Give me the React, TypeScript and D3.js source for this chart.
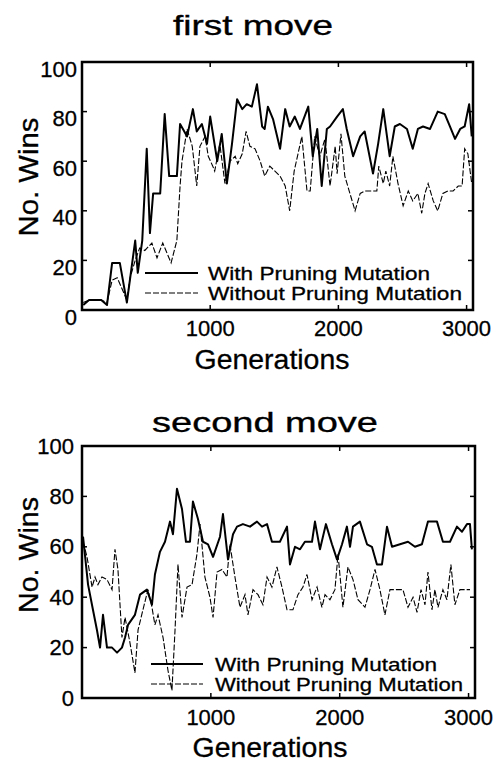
import React from "react";
import * as d3 from "d3";

const xTicks = [1000, 2000, 3000];
const yTicks = [0, 20, 40, 60, 80, 100];
const seriesNames = ["With Pruning Mutation", "Without Pruning Mutation"];

// [generation, no. wins]
const firstWith: [number, number][] = [
  [10, 2], [55, 4], [100, 4], [150, 4], [195, 2], [235, 19], [295, 19], [350, 3], [415, 28], [435, 15],
  [470, 28], [505, 65], [530, 31], [555, 47], [610, 47], [645, 79], [680, 54], [740, 54], [765, 75], [820, 70],
  [865, 81], [895, 72], [935, 75], [975, 67], [1000, 78], [1055, 60], [1090, 71], [1130, 51], [1170, 67], [1210, 85],
  [1250, 81], [1285, 83], [1325, 82], [1365, 91], [1405, 74], [1425, 73], [1450, 82], [1490, 77], [1545, 65], [1585, 81],
  [1620, 74], [1660, 78], [1700, 73], [1765, 82], [1800, 62], [1835, 73], [1870, 50], [1910, 73], [1935, 74], [1990, 78],
  [2035, 81], [2065, 73], [2115, 62], [2170, 70], [2205, 72], [2270, 55], [2310, 67], [2350, 81], [2400, 62], [2440, 74],
  [2480, 75], [2535, 73], [2580, 65], [2620, 73], [2660, 74], [2715, 73], [2775, 80], [2830, 79], [2870, 74], [2910, 69],
  [2950, 73], [2985, 74], [3020, 83], [3040, 70],
];

const firstWithout: [number, number][] = [
  [10, 3], [55, 4], [100, 4], [150, 4], [195, 3], [235, 12], [275, 13], [350, 4], [375, 13], [415, 20],
  [450, 25], [490, 24], [545, 27], [585, 21], [630, 27], [695, 19], [740, 28], [765, 50], [780, 60], [820, 73],
  [860, 66], [895, 50], [920, 66], [960, 70], [985, 62], [1020, 58], [1035, 56], [1075, 67], [1115, 51], [1155, 60],
  [1195, 62], [1215, 59], [1250, 63], [1280, 72], [1310, 66], [1350, 65], [1390, 60], [1425, 54], [1465, 58], [1505, 56],
  [1545, 54], [1585, 50], [1620, 40], [1655, 56], [1685, 63], [1715, 70], [1755, 48], [1780, 48], [1815, 70], [1855, 62],
  [1895, 69], [1935, 50], [1975, 66], [1990, 55], [2020, 71], [2050, 54], [2090, 47], [2130, 40], [2170, 47], [2205, 48],
  [2245, 48], [2300, 48], [2315, 58], [2350, 51], [2370, 56], [2400, 50], [2425, 62], [2465, 51], [2505, 42], [2545, 48],
  [2580, 44], [2620, 47], [2650, 39], [2675, 47], [2700, 51], [2740, 44], [2775, 40], [2815, 47], [2855, 48], [2895, 48],
  [2935, 50], [2965, 50], [2985, 65], [3010, 63], [3040, 51],
];

const secondWith: [number, number][] = [
  [8, 64], [47, 45], [85, 35], [116, 27], [140, 20], [163, 33], [194, 20], [233, 20], [272, 18], [310, 20],
  [334, 24], [357, 29], [411, 33], [450, 41], [504, 43], [543, 37], [566, 49], [605, 58], [644, 62], [683, 70],
  [706, 65], [737, 83], [776, 75], [807, 62], [838, 62], [861, 78], [900, 71], [939, 62], [978, 61], [1017, 56],
  [1071, 64], [1094, 73], [1133, 55], [1172, 65], [1203, 68], [1249, 69], [1304, 68], [1358, 70], [1397, 68], [1436, 69],
  [1474, 62], [1536, 62], [1591, 68], [1614, 53], [1653, 60], [1692, 59], [1730, 62], [1785, 62], [1808, 70], [1847, 59],
  [1893, 69], [1940, 61], [1979, 55], [2018, 61], [2056, 68], [2080, 60], [2103, 68], [2157, 70], [2212, 61], [2250, 60],
  [2289, 53], [2328, 53], [2367, 68], [2406, 60], [2468, 61], [2530, 62], [2584, 60], [2638, 61], [2685, 70], [2755, 70],
  [2801, 62], [2856, 62], [2910, 68], [2949, 66], [2988, 69], [3011, 69], [3026, 59],
];

const secondWithout: [number, number][] = [
  [8, 62], [39, 56], [78, 44], [101, 48], [124, 45], [155, 48], [194, 47], [233, 43], [256, 59], [279, 51],
  [310, 24], [334, 32], [372, 22], [411, 10], [435, 27], [473, 35], [512, 43], [543, 36], [566, 29], [590, 33],
  [629, 24], [667, 11], [698, 3], [722, 27], [745, 53], [776, 32], [815, 44], [854, 45], [892, 57], [916, 69],
  [954, 48], [993, 40], [1017, 32], [1048, 50], [1086, 51], [1125, 48], [1148, 61], [1187, 48], [1226, 36], [1265, 41],
  [1288, 33], [1327, 43], [1366, 41], [1404, 37], [1436, 48], [1474, 44], [1513, 52], [1552, 44], [1591, 35], [1637, 35],
  [1676, 41], [1715, 44], [1746, 49], [1785, 39], [1824, 44], [1862, 36], [1886, 41], [1924, 39], [1963, 43], [1987, 57],
  [2025, 36], [2064, 52], [2103, 47], [2142, 39], [2196, 36], [2235, 43], [2274, 51], [2312, 43], [2351, 33], [2390, 43],
  [2444, 43], [2491, 43], [2530, 36], [2569, 40], [2600, 34], [2631, 43], [2662, 37], [2685, 50], [2716, 35], [2739, 43],
  [2763, 36], [2801, 43], [2832, 39], [2863, 53], [2894, 37], [2933, 43], [2972, 43], [3011, 43],
];

const FONT = "'Liberation Sans', Arial, Helvetica, sans-serif";

type Layout = {
  box: { left: number; right: number; top: number; bottom: number };
  title: { text: string; x: number; y: number; len: number };
  xTickY: number;
  yTickX: number;
  yTickDy: number;
  xLabel: { x: number; y: number };
  yLabel: { x: number; y: number; len: number };
  legend: { x0: number; x1: number; tx: number; y1: number; y2: number; len1: number; len2: number };
};

const topLayout: Layout = {
  box: { left: 82, right: 473, top: 62, bottom: 310 },
  title: { text: "first move", x: 253, y: 35, len: 160 },
  xTickY: 336,
  yTickX: 77,
  yTickDy: 7,
  xLabel: { x: 272, y: 369 },
  yLabel: { x: 38, y: 177, len: 119 },
  legend: { x0: 145, x1: 198, tx: 208, y1: 273, y2: 293, len1: 222, len2: 254 },
};

const bottomLayout: Layout = {
  box: { left: 82, right: 475, top: 446, bottom: 698 },
  title: { text: "second move", x: 265, y: 432, len: 226 },
  xTickY: 725,
  yTickX: 74,
  yTickDy: 0,
  xLabel: { x: 270, y: 757 },
  yLabel: { x: 38, y: 555, len: 116 },
  legend: { x0: 151, x1: 203, tx: 215, y1: 664, y2: 684, len1: 222, len2: 248 },
};

function Panel({ L, withData, withoutData }: { L: Layout; withData: [number, number][]; withoutData: [number, number][] }) {
  const { box } = L;
  const x = d3.scaleLinear().domain([0, 3050]).range([box.left, box.right]);
  const y = d3.scaleLinear().domain([0, 100]).range([box.bottom, box.top]);
  const line = d3
    .line<[number, number]>()
    .x((d) => x(d[0]))
    .y((d) => y(d[1]));
  const tick = 5;

  return (
    <g fontFamily={FONT} fill="#000">
      <g stroke="#000" strokeWidth={0.35}>
        <text x={L.title.x} y={L.title.y} fontSize={28} textAnchor="middle" textLength={L.title.len} lengthAdjust="spacingAndGlyphs">
          {L.title.text}
        </text>
      </g>

      {/* data */}
      <path d={line(withoutData) || ""} fill="none" stroke="#000" strokeWidth={1.1} strokeDasharray="6,2" />
      <path d={line(withData) || ""} fill="none" stroke="#000" strokeWidth={2} strokeLinejoin="round" />

      {/* frame */}
      <rect x={box.left} y={box.top} width={box.right - box.left} height={box.bottom - box.top} fill="none" stroke="#000" strokeWidth={2.5} />
      {xTicks.map((t) => (
        <g key={"xt" + t}>
          <line x1={x(t)} x2={x(t)} y1={box.bottom} y2={box.bottom - tick} stroke="#000" strokeWidth={1.5} />
          <line x1={x(t)} x2={x(t)} y1={box.top} y2={box.top + tick} stroke="#000" strokeWidth={1.5} />
          <text x={x(t)} y={L.xTickY} fontSize={22} textAnchor="middle" stroke="#000" strokeWidth={0.3}>
            {t}
          </text>
        </g>
      ))}
      {yTicks.map((t) => (
        <g key={"yt" + t}>
          <line x1={box.left} x2={box.left + tick} y1={y(t)} y2={y(t)} stroke="#000" strokeWidth={1.5} />
          <line x1={box.right} x2={box.right - tick} y1={y(t)} y2={y(t)} stroke="#000" strokeWidth={1.5} />
          <text x={L.yTickX} y={y(t) + L.yTickDy} fontSize={22} textAnchor="end" dominantBaseline="central" stroke="#000" strokeWidth={0.3}>
            {t}
          </text>
        </g>
      ))}

      {/* legend */}
      <line x1={L.legend.x0} x2={L.legend.x1} y1={L.legend.y1} y2={L.legend.y1} stroke="#000" strokeWidth={2} />
      <line x1={L.legend.x0} x2={L.legend.x1} y1={L.legend.y2} y2={L.legend.y2} stroke="#000" strokeWidth={1.1} strokeDasharray="6,2" />
      <g stroke="#000" strokeWidth={0.3}>
        <text x={L.legend.tx} y={L.legend.y1 + 7} fontSize={19} textLength={L.legend.len1} lengthAdjust="spacingAndGlyphs">
          {seriesNames[0]}
        </text>
        <text x={L.legend.tx} y={L.legend.y2 + 7} fontSize={19} textLength={L.legend.len2} lengthAdjust="spacingAndGlyphs">
          {seriesNames[1]}
        </text>
      </g>

      {/* axis labels */}
      <g stroke="#000" strokeWidth={0.3}>
        <text x={L.xLabel.x} y={L.xLabel.y} fontSize={27} textAnchor="middle" textLength={155} lengthAdjust="spacingAndGlyphs">
          Generations
        </text>
        <text
          transform={`translate(${L.yLabel.x},${L.yLabel.y}) rotate(-90)`}
          fontSize={27}
          textAnchor="middle"
          textLength={L.yLabel.len}
          lengthAdjust="spacingAndGlyphs"
        >
          No. Wins
        </text>
      </g>
    </g>
  );
}

export default function App() {
  return (
    <svg width={500} height={762} style={{ position: "absolute", left: 0, top: 0, background: "#fff" }}>
      <rect width={500} height={762} fill="#fff" />
      <Panel L={topLayout} withData={firstWith} withoutData={firstWithout} />
      <Panel L={bottomLayout} withData={secondWith} withoutData={secondWithout} />
    </svg>
  );
}
